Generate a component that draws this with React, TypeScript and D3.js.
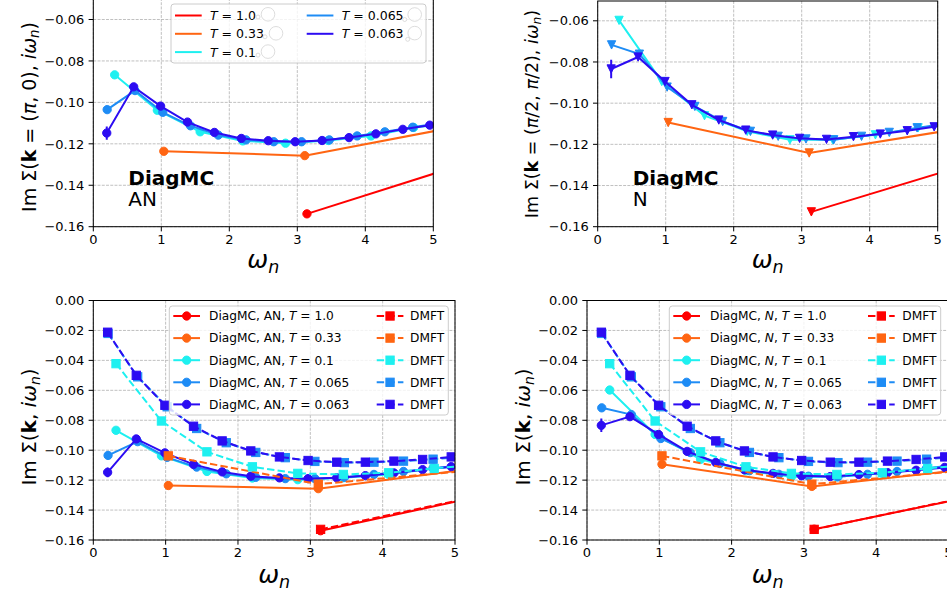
import React from "react";
import * as d3 from "d3";

// ---------- data ----------
// Matsubara frequencies omega_n for each temperature
const omegaT1 = [3.142, 9.425];
const omegaT033 = [1.037, 3.11, 5.184];
const omegaT01 = [0.314, 0.942, 1.571, 2.199, 2.827, 3.456, 4.084, 4.712, 5.341];
const omegaT0065 = [0.204, 0.613, 1.021, 1.429, 1.838, 2.246, 2.654, 3.063, 3.471, 3.88, 4.288, 4.697, 5.105];
const omegaT0063 = [0.198, 0.594, 0.99, 1.385, 1.781, 2.177, 2.573, 2.969, 3.365, 3.761, 4.156, 4.552, 4.948, 5.344];

const tempLabels = ["1.0", "0.33", "0.1", "0.065", "0.063"];
const seriesColors = ["#ff0000", "#ff6512", "#1ef0f0", "#1e8cf5", "#2c0cf2"];

// DiagMC, antinode k=(pi,0)
const anT1 = [-0.1538, -0.0885];
const anT033 = [-0.1236, -0.1257, -0.1128];
const anT01 = [-0.0867, -0.1038, -0.1142, -0.1186, -0.1197, -0.1184, -0.1162, -0.1121, -0.1098];
const anT0065 = [-0.1035, -0.0943, -0.1048, -0.1113, -0.1158, -0.1181, -0.119, -0.119, -0.1181, -0.1162, -0.1142, -0.112, -0.11];
const anT0063 = [-0.1148, -0.0925, -0.1018, -0.1095, -0.1145, -0.1174, -0.1185, -0.119, -0.1184, -0.117, -0.1152, -0.113, -0.111, -0.109];
const anErrT0063 = [0.0032, 0, 0, 0, 0, 0, 0, 0, 0, 0, 0, 0, 0, 0];

// DiagMC, node k=(pi/2,pi/2)
const nT1 = [-0.1528, -0.0898];
const nT033 = [-0.1094, -0.1242, -0.1131];
const nT01 = [-0.0598, -0.0895, -0.1061, -0.1137, -0.1178, -0.1178, -0.1154, -0.112, -0.1098];
const nT0065 = [-0.0717, -0.0762, -0.0922, -0.1016, -0.1089, -0.1137, -0.1161, -0.1174, -0.1178, -0.1161, -0.1142, -0.112, -0.11];
const nT0063 = [-0.0834, -0.0776, -0.0895, -0.1008, -0.1082, -0.1131, -0.1155, -0.1171, -0.1176, -0.1163, -0.115, -0.1134, -0.1115, -0.1098];
const nErrT0063 = [0.0045, 0, 0, 0, 0, 0, 0, 0, 0, 0, 0, 0, 0, 0];

// DMFT (local)
const dmftT1 = [-0.1529, -0.089];
const dmftT033 = [-0.1038, -0.1227, -0.1137];
const dmftT01 = [-0.0422, -0.0805, -0.1011, -0.1111, -0.1155, -0.1162, -0.1151, -0.1122, -0.1095];
const dmftT0065 = [-0.022, -0.051, -0.071, -0.0855, -0.095, -0.1015, -0.105, -0.1075, -0.1083, -0.108, -0.1073, -0.106, -0.1045];
const dmftT0063 = [-0.0212, -0.05, -0.07, -0.084, -0.0938, -0.1005, -0.1045, -0.1069, -0.108, -0.108, -0.1073, -0.1062, -0.1045, -0.103];

const xTicks = [0, 1, 2, 3, 4, 5];
const yTicksTop = [-0.16, -0.14, -0.12, -0.1, -0.08, -0.06];
const yTicksBottom = [-0.16, -0.14, -0.12, -0.1, -0.08, -0.06, -0.04, -0.02, 0.0];

const omegas = [omegaT1, omegaT033, omegaT01, omegaT0065, omegaT0063];
const anValues = [anT1, anT033, anT01, anT0065, anT0063];
const nValues = [nT1, nT033, nT01, nT0065, nT0063];
const dmftValues = [dmftT1, dmftT033, dmftT01, dmftT0065, dmftT0063];
const anErrors = [null, null, null, null, anErrT0063];
const nErrors = [null, null, null, null, nErrT0063];

// ---------- drawing ----------
const FONT = "'DejaVu Sans', sans-serif";
const MS = 8.3;

type Mk = "o" | "v" | "s";
type Series = { xs: number[]; ys: number[]; err?: number[] | null; color: string; marker: Mk; dashed?: boolean };

function Marker({ kind, cx, cy, color, size = MS }: { kind: Mk; cx: number; cy: number; color: string; size?: number }) {
  const h = size / 2;
  if (kind === "o") return <circle cx={cx} cy={cy} r={h} fill={color} stroke={color} strokeWidth={1} />;
  if (kind === "s") return <rect x={cx - h} y={cy - h} width={size} height={size} fill={color} stroke={color} strokeWidth={1} />;
  return <polygon points={`${cx - h},${cy - h} ${cx + h},${cy - h} ${cx},${cy + h}`} fill={color} stroke={color} strokeWidth={1} />;
}

const fmtY = (v: number) => (v === 0 ? "0.00" : "\u2212" + Math.abs(v).toFixed(2));

function Panel({ id, x, y, top, yTicks, series, children }: any) {
  const [l, r] = x.range();
  const b = y.range()[0];
  const line = d3.line<[number, number]>().x((d) => x(d[0])).y((d) => y(d[1]));
  return (
    <g>
      <defs>
        <clipPath id={id}>
          <rect x={l} y={top} width={r - l} height={b - top} />
        </clipPath>
      </defs>
      <rect x={l} y={top} width={r - l} height={b - top} fill="#fff" />
      <g stroke="#b0b0b0" strokeWidth={0.8} strokeDasharray="2.96,1.28">
        {xTicks.map((t) => (
          <line key={"gx" + t} x1={x(t)} x2={x(t)} y1={top} y2={b} />
        ))}
        {yTicks.map((t: number) => (
          <line key={"gy" + t} x1={l} x2={r} y1={y(t)} y2={y(t)} />
        ))}
      </g>
      <g clipPath={`url(#${id})`}>
        {series.map((s: Series, i: number) => {
          const pts = d3.zip(s.xs, s.ys) as [number, number][];
          return (
            <g key={i}>
              <path d={line(pts) || ""} fill="none" stroke={s.color} strokeWidth={2} strokeDasharray={s.dashed ? "7.4,3.2" : undefined} />
              {s.err &&
                pts.map((p, j) =>
                  s.err && s.err[j] > 0 ? (
                    <line key={"e" + j} x1={x(p[0])} x2={x(p[0])} y1={y(p[1] - s.err[j])} y2={y(p[1] + s.err[j])} stroke={s.color} strokeWidth={2} />
                  ) : null
                )}
              {pts.map((p, j) => (
                <Marker key={j} kind={s.marker} cx={x(p[0])} cy={y(p[1])} color={s.color} />
              ))}
            </g>
          );
        })}
      </g>
      <g stroke="#000" strokeWidth={1} fill="none">
        <rect x={l} y={top} width={r - l} height={b - top} />
        {xTicks.map((t) => (
          <line key={"tx" + t} x1={x(t)} x2={x(t)} y1={b} y2={b + 4.7} />
        ))}
        {yTicks.map((t: number) => (
          <line key={"ty" + t} x1={l - 4.7} x2={l} y1={y(t)} y2={y(t)} />
        ))}
      </g>
      <g fontFamily={FONT} fontSize={13} fill="#000">
        {xTicks.map((t) => (
          <text key={"lx" + t} x={x(t)} y={b + 17.3} textAnchor="middle">
            {t}
          </text>
        ))}
        {yTicks.map((t: number) => (
          <text key={"ly" + t} x={l - 9} y={y(t)} dy="0.36em" textAnchor="end">
            {fmtY(t)}
          </text>
        ))}
      </g>
      {children}
    </g>
  );
}

function TLabel({ label }: { label: string }) {
  return (
    <>
      <tspan fontStyle="italic">T</tspan>
      {" = " + label}
    </>
  );
}

function TopLegend({ x, y, w, h, col1, col2, rowY, dy }: any) {
  const faint = [
    [48, 1.5, 58, -1.2],
    [55, 3, 66, -0.5],
    [48, 3, 58, -0.5],
  ];
  const faint2 = [
    [63, 4, 73, -1],
    [66, 5.5, 73, -0.7],
  ];
  return (
    <g fontFamily={FONT} fontSize={12.5}>
      <rect x={x} y={y} width={w} height={h} rx={3} fill="#fff" fillOpacity={0.8} stroke="#cccccc" strokeWidth={1} />
      {tempLabels.map((t, i) => {
        const c = i < 3 ? col1 : col2;
        const row = i < 3 ? i : i - 3;
        const ry = rowY + row * dy;
        const f = i < 3 ? faint[row] : faint2[row];
        return (
          <g key={i}>
            <line x1={c} x2={c + 26.7} y1={ry} y2={ry} stroke={seriesColors[i]} strokeWidth={2} />
            <text x={c + 35} y={ry} dy="0.36em">
              <TLabel label={t} />
            </text>
            <circle cx={c + 35 + f[0]} cy={ry + f[1]} r={2} fill="#fff" stroke="#d4d4d4" strokeWidth={0.8} />
            <circle cx={c + 35 + f[2]} cy={ry + f[3]} r={6.8} fill="#fff" fillOpacity={0.6} stroke="#d4d4d4" strokeWidth={0.8} />
          </g>
        );
      })}
    </g>
  );
}

function BottomLegend({ x, y, w, h, c1, t1, c2, t2, rowY, dy, kind }: any) {
  return (
    <g fontFamily={FONT} fontSize={12.2}>
      <rect x={x} y={y} width={w} height={h} rx={3} fill="#fff" fillOpacity={0.8} stroke="#cccccc" strokeWidth={1} />
      {tempLabels.map((t, i) => {
        const ry = rowY + i * dy;
        const col = seriesColors[i];
        return (
          <g key={i}>
            <line x1={c1} x2={c1 + 26.7} y1={ry} y2={ry} stroke={col} strokeWidth={2} />
            <Marker kind="o" cx={c1 + 13.35} cy={ry} color={col} />
            <text x={t1} y={ry} dy="0.36em">
              {"DiagMC, "}
              {kind === "AN" ? "AN" : <tspan fontStyle="italic">N</tspan>}
              {", "}
              <TLabel label={t} />
            </text>
            <line x1={c2} x2={c2 + 26.7} y1={ry} y2={ry} stroke={col} strokeWidth={2} strokeDasharray="7.4,3.2" />
            <Marker kind="s" cx={c2 + 13.35} cy={ry} color={col} />
            <text x={t2} y={ry} dy="0.36em">
              DMFT
            </text>
          </g>
        );
      })}
    </g>
  );
}

function XLabel({ cx, y }: { cx: number; y: number }) {
  return (
    <text x={cx} y={y} textAnchor="middle" fontFamily={FONT} fontSize={25} fontStyle="italic">
      ω<tspan fontSize={17.5} dy={5}>n</tspan>
    </text>
  );
}

function YLabel({ x, cy, size, kpart }: { x: number; cy: number; size: number; kpart: React.ReactNode }) {
  return (
    <text transform={`translate(${x},${cy}) rotate(-90)`} textAnchor="middle" fontFamily={FONT} fontSize={size}>
      Im Σ(<tspan fontWeight="bold">k</tspan>
      {kpart}, <tspan fontStyle="italic">iω</tspan>
      <tspan fontStyle="italic" fontSize={size * 0.7} dy={size * 0.18}>n</tspan>
      <tspan dy={-size * 0.18}>)</tspan>
    </text>
  );
}

export default function App() {
  const xTL = d3.scaleLinear().domain([0, 5]).range([93.3, 433.3]);
  const yTL = d3.scaleLinear().domain([-0.16, -0.06]).range([226.7, 19.5]);
  const xTR = d3.scaleLinear().domain([0, 5]).range([597.7, 937.7]);
  const yTR = d3.scaleLinear().domain([-0.16, -0.06]).range([226.7, 20.8]);
  const xBL = d3.scaleLinear().domain([0, 5]).range([93.3, 455]);
  const yBL = d3.scaleLinear().domain([-0.16, 0]).range([540, 300.5]);
  const xBR = d3.scaleLinear().domain([0, 5]).range([587, 948.5]);
  const yBR = d3.scaleLinear().domain([-0.16, 0]).range([540, 300.5]);

  const anSeries: Series[] = omegas.map((o, i) => ({ xs: o, ys: anValues[i], err: anErrors[i], color: seriesColors[i], marker: "o" }));
  const nSeriesTop: Series[] = omegas.map((o, i) => ({ xs: o, ys: nValues[i], err: nErrors[i], color: seriesColors[i], marker: "v" }));
  const nSeriesBot: Series[] = omegas.map((o, i) => ({ xs: o, ys: nValues[i], err: nErrors[i], color: seriesColors[i], marker: "o" }));
  const dmftSeries: Series[] = omegas.map((o, i) => ({ xs: o, ys: dmftValues[i], color: seriesColors[i], marker: "s", dashed: true }));

  return (
    <svg width={947} height={596} style={{ position: "absolute", left: 0, top: 0, background: "#fff" }}>
      <rect x={0} y={0} width={947} height={596} fill="#fff" />
      <Panel id="cTL" x={xTL} y={yTL} top={-2} yTicks={yTicksTop} series={anSeries}>
        <TopLegend x={171} y={4} w={255} h={59} col1={175} col2={306.7} rowY={15.5} dy={18.3} />
        <text x={128.3} y={185} fontFamily={FONT} fontSize={20} fontWeight="bold">
          DiagMC
        </text>
        <text x={128.3} y={205.7} fontFamily={FONT} fontSize={20}>
          AN
        </text>
      </Panel>
      <Panel id="cTR" x={xTR} y={yTR} top={1} yTicks={yTicksTop} series={nSeriesTop}>
        <text x={632.7} y={185} fontFamily={FONT} fontSize={20} fontWeight="bold">
          DiagMC
        </text>
        <text x={632.7} y={205.7} fontFamily={FONT} fontSize={20}>
          N
        </text>
      </Panel>
      <Panel id="cBL" x={xBL} y={yBL} top={300.5} yTicks={yTicksBottom} series={[...anSeries, ...dmftSeries]}>
        <BottomLegend x={169.3} y={306} w={279} h={109} c1={173.3} t1={209} c2={376.7} t2={410} rowY={316} dy={22.1} kind="AN" />
      </Panel>
      <Panel id="cBR" x={xBR} y={yBR} top={300.5} yTicks={yTicksBottom} series={[...nSeriesBot, ...dmftSeries]}>
        <BottomLegend x={669.3} y={306} w={271.4} h={109} c1={673.3} t1={710} c2={868} t2={902.3} rowY={316} dy={22.1} kind="N" />
      </Panel>
      <XLabel cx={263.3} y={268} />
      <XLabel cx={767.7} y={268} />
      <XLabel cx={274.2} y={583} />
      <XLabel cx={767.7} y={583} />
      <YLabel x={36} cy={117} size={19} kpart={<> = (<tspan fontStyle="italic">π</tspan>, 0)</>} />
      <YLabel x={538} cy={114} size={17.5} kpart={<> = (<tspan fontStyle="italic">π</tspan>/2, <tspan fontStyle="italic">π</tspan>/2)</>} />
      <YLabel x={36} cy={427} size={20} kpart={null} />
      <YLabel x={530} cy={427} size={20} kpart={null} />
    </svg>
  );
}
